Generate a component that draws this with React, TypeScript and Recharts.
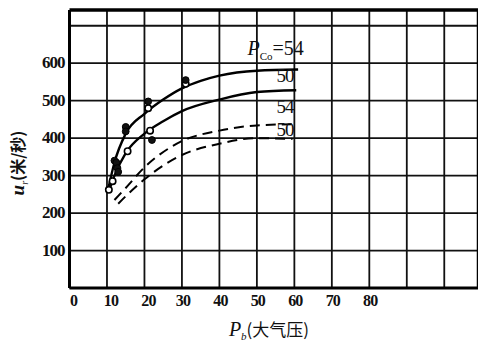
import React from "react";
import {
  ComposedChart,
  Line,
  Scatter,
  XAxis,
  YAxis,
  CartesianGrid,
  ReferenceLine,
  ReferenceDot,
} from "recharts";

// tick values
const xTicks = [0, 10, 20, 30, 40, 50, 60, 70, 80, 90, 100];
const xLabeled = [0, 10, 20, 30, 40, 50, 60, 70, 80];
const yTicks = [0, 100, 200, 300, 400, 500, 600, 700];
const yLabeled = [100, 200, 300, 400, 500, 600];

// curves (x = P_b, y = u_r)
const solid54 = [
  { x: 10.2, y: 258 }, { x: 12, y: 335 }, { x: 15, y: 412 }, { x: 20, y: 465 },
  { x: 25, y: 503 }, { x: 30, y: 533 }, { x: 35, y: 553 }, { x: 40, y: 567 },
  { x: 50, y: 580 }, { x: 61, y: 583 },
];
const solid50 = [
  { x: 10.5, y: 258 }, { x: 12, y: 300 }, { x: 15, y: 360 }, { x: 20, y: 412 },
  { x: 25, y: 445 }, { x: 30, y: 472 }, { x: 40, y: 503 }, { x: 50, y: 523 },
  { x: 60.5, y: 528 },
];
const dashed54 = [
  { x: 12, y: 235 }, { x: 15, y: 267 }, { x: 20, y: 322 }, { x: 30, y: 392 },
  { x: 40, y: 420 }, { x: 50, y: 434 }, { x: 60, y: 437 },
];
const dashed50 = [
  { x: 13, y: 225 }, { x: 15, y: 245 }, { x: 20, y: 290 }, { x: 30, y: 355 },
  { x: 40, y: 385 }, { x: 50, y: 400 }, { x: 59.5, y: 398 },
];

// experimental points
const openPts = [
  { x: 10.5, y: 262 }, { x: 11.5, y: 285 }, { x: 15.5, y: 365 },
  { x: 21.5, y: 420 }, { x: 21, y: 480 }, { x: 31, y: 545 },
];
const filledPts = [
  { x: 12, y: 340 }, { x: 12.5, y: 335 }, { x: 12.8, y: 320 }, { x: 13, y: 310 },
  { x: 15, y: 430 }, { x: 15, y: 418 }, { x: 21, y: 498 }, { x: 22, y: 395 },
  { x: 31, y: 555 },
];

// curve labels
const curveLabels = [
  { x: 55, y: 622, text: "54", sub: true },
  { x: 57.5, y: 550, text: "50" },
  { x: 57.5, y: 468, text: "54" },
  { x: 57.5, y: 405, text: "50" },
];

const SERIF = "Liberation Serif, DejaVu Serif, serif";
const CJK = "Noto Sans CJK SC, sans-serif";

const OpenDot = (p: any) => (
  <circle cx={p.cx} cy={p.cy} r={3.2} fill="#fff" stroke="#000" strokeWidth={1.6} />
);
const FilledDot = (p: any) => (
  <circle cx={p.cx} cy={p.cy} r={3.4} fill="#111" stroke="#000" strokeWidth={1} />
);

const XTick = (p: any) => {
  const v = p.payload.value;
  if (!xLabeled.includes(v)) return null;
  return (
    <text x={p.x + (v < 30 ? 4 : 1)} y={p.y + 10} textAnchor="middle"
      style={{ fontFamily: SERIF, fontWeight: 700, fontSize: 16 }} fill="#111" letterSpacing={-0.8}>
      {v}
    </text>
  );
};
const YTick = (p: any) => {
  const v = p.payload.value;
  if (!yLabeled.includes(v)) return null;
  return (
    <text x={p.x + 3} y={p.y + 5} textAnchor="end"
      style={{ fontFamily: SERIF, fontWeight: 700, fontSize: 17 }} fill="#111" letterSpacing={-1}>
      {v}
    </text>
  );
};

const CurveLabel = (item: any) => (props: any) => {
  const { viewBox } = props;
  const x = viewBox.x;
  const y = viewBox.y;
  if (item.sub) {
    return (
      <text x={x} y={y} textAnchor="middle" style={{ fontFamily: SERIF, fontSize: 20 }} fill="#111">
        <tspan style={{ fontStyle: "italic" }}>P</tspan>
        <tspan style={{ fontSize: 11 }} dy={5}>Co</tspan>
        <tspan dy={-5}>=54</tspan>
      </text>
    );
  }
  return (
    <text x={x} y={y} textAnchor="middle" style={{ fontFamily: SERIF, fontSize: 19 }} fill="#111"
      letterSpacing={-1}>
      {item.text}
    </text>
  );
};

export default function App() {
  return (
    <div style={{ position: "absolute", left: 0, top: 0, width: 478, height: 343, background: "#fff" }}>
      <ComposedChart width={478} height={343} margin={{ top: 10, right: 0, bottom: 0, left: 0 }}>
        <CartesianGrid stroke="#111" strokeWidth={1.8}
          verticalValues={xTicks} horizontalValues={yTicks} />
        <XAxis type="number" dataKey="x" domain={[0, 109]} ticks={xTicks} allowDataOverflow
          interval={0} tickLine={false} height={55}
          axisLine={{ stroke: "#000", strokeWidth: 3 }} tick={<XTick />} />
        <YAxis type="number" dataKey="y" domain={[0, 742]} ticks={yTicks} allowDataOverflow
          interval={0} tickLine={false} width={69.5}
          axisLine={{ stroke: "#000", strokeWidth: 3 }} tick={<YTick />} />
        <ReferenceLine y={742} stroke="#000" strokeWidth={3.5} />
        <ReferenceLine x={109} stroke="#000" strokeWidth={2.5} />
        <Line data={solid54} dataKey="y" type="monotone" stroke="#000" strokeWidth={2.4}
          dot={false} isAnimationActive={false} />
        <Line data={solid50} dataKey="y" type="monotone" stroke="#000" strokeWidth={2.4}
          dot={false} isAnimationActive={false} />
        <Line data={dashed54} dataKey="y" type="monotone" stroke="#000" strokeWidth={2}
          strokeDasharray="10 6" dot={false} isAnimationActive={false} />
        <Line data={dashed50} dataKey="y" type="monotone" stroke="#000" strokeWidth={2}
          strokeDasharray="10 6" dot={false} isAnimationActive={false} />
        <Scatter data={openPts} dataKey="y" shape={<OpenDot />} isAnimationActive={false} />
        <Scatter data={filledPts} dataKey="y" shape={<FilledDot />} isAnimationActive={false} />
        {curveLabels.map((c, i) => (
          <ReferenceDot key={i} x={c.x} y={c.y} r={0} fill="none" stroke="none"
            label={CurveLabel(c)} />
        ))}
      </ComposedChart>
      <svg width={478} height={343} style={{ position: "absolute", left: 0, top: 0, pointerEvents: "none" }}>
        <text x={269} y={336} textAnchor="middle" fill="#111" style={{ fontSize: 17 }}>
          <tspan style={{ fontFamily: SERIF, fontStyle: "italic", fontSize: 20 }}>P</tspan>
          <tspan style={{ fontFamily: SERIF, fontStyle: "italic", fontSize: 11 }} dy={4}>b</tspan>
          <tspan style={{ fontFamily: CJK }} dy={-4}>(大气压)</tspan>
        </text>
        <text transform="translate(24,163) rotate(-90)" textAnchor="middle" fill="#111" style={{ fontSize: 16 }}>
          <tspan style={{ fontFamily: SERIF, fontStyle: "italic", fontWeight: 700, fontSize: 19 }}>u</tspan>
          <tspan style={{ fontFamily: SERIF, fontStyle: "italic", fontSize: 10 }} dy={4}>r</tspan>
          <tspan style={{ fontFamily: CJK, fontWeight: 700 }} dy={-4}>(米/秒)</tspan>
        </text>
      </svg>
    </div>
  );
}
